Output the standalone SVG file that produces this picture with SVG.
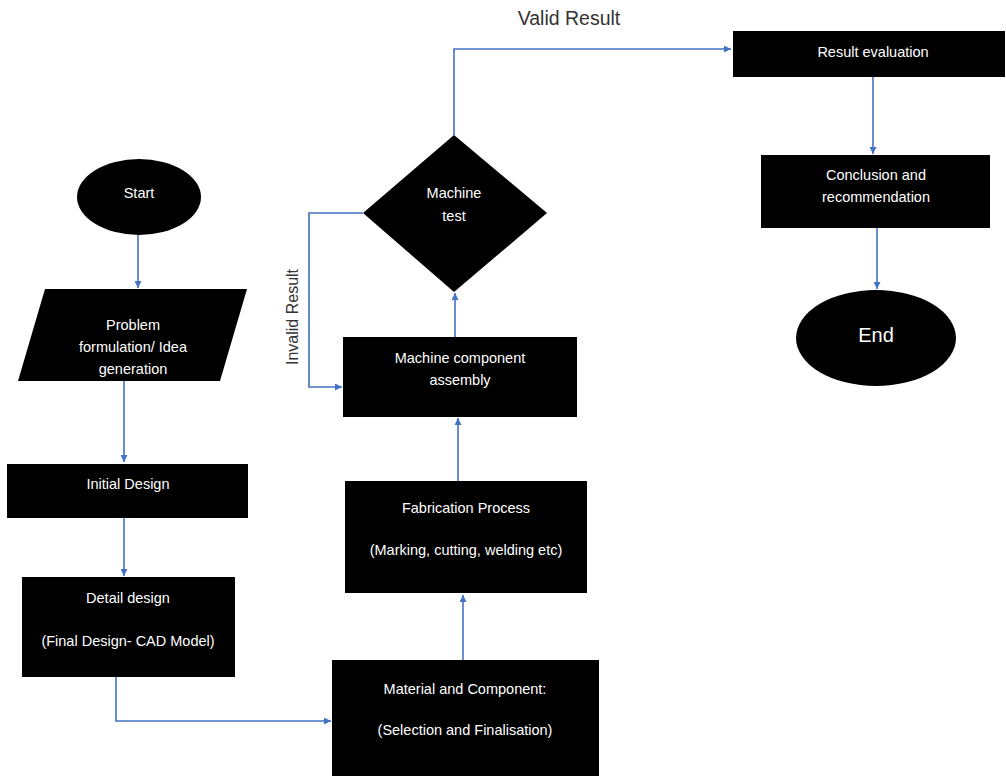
<svg xmlns="http://www.w3.org/2000/svg" width="1006" height="776" viewBox="0 0 1006 776">
<defs>
<style>
.n{fill:#000}
.t{fill:#fff;font-family:"Liberation Sans",Arial,sans-serif;font-size:14.5px;text-anchor:middle}
.c{fill:none;stroke:#4472C4;stroke-width:1.6}
.lbl{fill:#333;font-family:"Liberation Sans",Arial,sans-serif;font-size:19.5px;text-anchor:middle}
</style>
<marker id="ah" viewBox="0 0 10 10" refX="10" refY="5" markerWidth="7" markerHeight="7" markerUnits="userSpaceOnUse" orient="auto">
<path d="M0,0 L10,5 L0,10 z" fill="#4472C4"/>
</marker>
</defs>
<rect width="1006" height="776" fill="#fff"/>
<g id="connectors">
<path class="c" d="M138,235 V288" marker-end="url(#ah)"/>
<path class="c" d="M124,381 V462" marker-end="url(#ah)"/>
<path class="c" d="M124,518 V576" marker-end="url(#ah)"/>
<path class="c" d="M116,658 V721 H331" marker-end="url(#ah)"/>
<path class="c" d="M463,660 V595" marker-end="url(#ah)"/>
<path class="c" d="M458,481 V418" marker-end="url(#ah)"/>
<path class="c" d="M455,337 V293" marker-end="url(#ah)"/>
<path class="c" d="M363,213 H309 V387 H342" marker-end="url(#ah)"/>
<path class="c" d="M454,135 V49 H731" marker-end="url(#ah)"/>
<path class="c" d="M873,77 V154" marker-end="url(#ah)"/>
<path class="c" d="M877,228 V289" marker-end="url(#ah)"/>
<text class="lbl" x="569" y="25">Valid Result</text>
<text class="lbl" x="0" y="0" transform="translate(298,317) rotate(-90)" style="font-size:16px">Invalid Result</text>
</g>
<g id="start">
<ellipse class="n" cx="139" cy="197" rx="62" ry="38"/>
<text class="t" x="139" y="198">Start</text>
</g>
<g id="problem">
<polygon class="n" points="45,289 247,289 220,381 18,381"/>
<text class="t" x="133" y="330">Problem</text>
<text class="t" x="133" y="352">formulation/ Idea</text>
<text class="t" x="133" y="374">generation</text>
</g>
<g id="initial">
<rect class="n" x="7" y="464" width="241" height="54"/>
<text class="t" x="128" y="489">Initial Design</text>
</g>
<g id="detail">
<rect class="n" x="22" y="577" width="213" height="100"/>
<text class="t" x="128" y="603">Detail design</text>
<text class="t" x="128" y="646">(Final Design- CAD Model)</text>
</g>
<g id="material">
<rect class="n" x="332" y="660" width="267" height="120"/>
<text class="t" x="465" y="694">Material and Component:</text>
<text class="t" x="465" y="735">(Selection and Finalisation)</text>
</g>
<g id="fabrication">
<rect class="n" x="345" y="481" width="242" height="112"/>
<text class="t" x="466" y="513">Fabrication Process</text>
<text class="t" x="466" y="555">(Marking, cutting, welding etc)</text>
</g>
<g id="assembly">
<rect class="n" x="343" y="337" width="234" height="80"/>
<text class="t" x="460" y="363">Machine component</text>
<text class="t" x="460" y="385">assembly</text>
</g>
<g id="test">
<polygon class="n" points="454,135 547,213 454,292 363,213"/>
<text class="t" x="454" y="198">Machine</text>
<text class="t" x="454" y="221">test</text>
</g>
<g id="evaluation">
<rect class="n" x="733" y="31" width="272" height="46"/>
<text class="t" x="873" y="57">Result evaluation</text>
</g>
<g id="conclusion">
<rect class="n" x="761" y="155" width="229" height="73"/>
<text class="t" x="876" y="180">Conclusion and</text>
<text class="t" x="876" y="202">recommendation</text>
</g>
<g id="end">
<ellipse class="n" cx="876" cy="338" rx="80" ry="48"/>
<text class="t" x="876" y="342" style="font-size:20px">End</text>
</g>
</svg>
